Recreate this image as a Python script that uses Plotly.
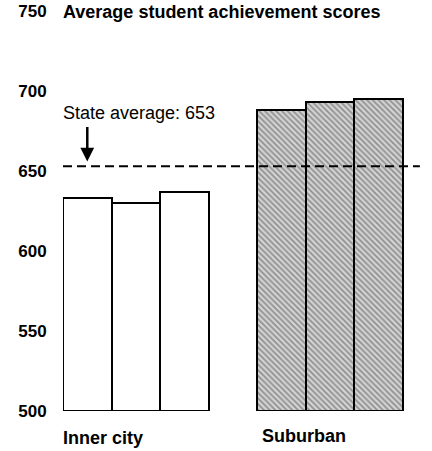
import plotly.graph_objects as go

groups = ["Inner city", "Suburban"]
inner_city = [633, 630, 637]
suburban = [688, 693, 695]
state_average = 653
y_ticks = [500, 550, 600, 650, 700, 750]
title = "Average student achievement scores"

cats_inner = ["ic1", "ic2", "ic3"]
cats_sub = ["su1", "su2", "su3"]
all_cats = cats_inner + ["gap"] + cats_sub

FONT = "Liberation Sans, Arial, sans-serif"

fig = go.Figure()
fig.add_bar(
    x=cats_inner, y=[v - 500 for v in inner_city], base=500,
    marker=dict(color="white", line=dict(color="black", width=2)),
    width=1.0, showlegend=False, hoverinfo="skip",
)
fig.add_bar(
    x=cats_sub, y=[v - 500 for v in suburban], base=500,
    marker=dict(
        color="#b8b8b8",
        line=dict(color="black", width=2),
        pattern=dict(shape="\\", fgcolor="#4a4a4a", bgcolor="#d2d2d2", size=4, solidity=0.4),
    ),
    width=1.0, showlegend=False, hoverinfo="skip",
)

fig.add_shape(type="line", xref="x", yref="y", x0=-0.5, x1=6.85, y0=state_average, y1=state_average,
              line=dict(color="black", width=2, dash="9px,5px"))

# arrow
fig.add_annotation(x=cats_inner[0], y=state_average + 3, xref="x", yref="y", text="",
                   showarrow=True, arrowhead=2, arrowsize=1.1, arrowwidth=2.5, arrowcolor="black",
                   ax=0, ay=-36)
fig.add_annotation(x=-0.5, y=686, xref="x", yref="y", text="State average: " + str(state_average),
                   showarrow=False, xanchor="left", yanchor="middle", xshift=-2,
                   font=dict(family=FONT, size=18, color="black"))

# title
fig.add_annotation(x=-0.5, y=750, xref="x", yref="y", text="<b>" + title + "</b>",
                   showarrow=False, xanchor="left", yanchor="middle", yshift=-1, xshift=-2,
                   font=dict(family=FONT, size=18, color="black"))

# group labels
fig.add_annotation(x=-0.5, y=500, xref="x", yref="y", text="<b>" + groups[0] + "</b>",
                   showarrow=False, xanchor="left", yanchor="middle", yshift=-27, xshift=-2,
                   font=dict(family=FONT, size=18, color="black"))
fig.add_annotation(x=3.5, y=500, xref="x", yref="y", text="<b>" + groups[1] + "</b>",
                   showarrow=False, xanchor="left", yanchor="middle", yshift=-25, xshift=3,
                   font=dict(family=FONT, size=18, color="black"))

fig.update_layout(
    width=432, height=451,
    margin=dict(l=63, r=0, t=11, b=40),
    plot_bgcolor="white", paper_bgcolor="white",
    bargap=0, hovermode=False,
    xaxis=dict(type="category", categoryorder="array", categoryarray=all_cats,
               range=[-0.5, 7.1], showticklabels=False, showgrid=False, zeroline=False,
               showline=False, ticks=""),
    yaxis=dict(range=[500, 750], tickvals=y_ticks, ticktext=["<b>%d</b>" % v for v in y_ticks],
               showgrid=False, zeroline=False, showline=False, automargin=False,
               ticks="outside", ticklen=12, tickcolor="rgba(0,0,0,0)",
               tickfont=dict(family=FONT, size=17, color="black")),
)

fig.write_html("out.html", config={"displayModeBar": False},
               post_script="document.body.style.margin='0';")
